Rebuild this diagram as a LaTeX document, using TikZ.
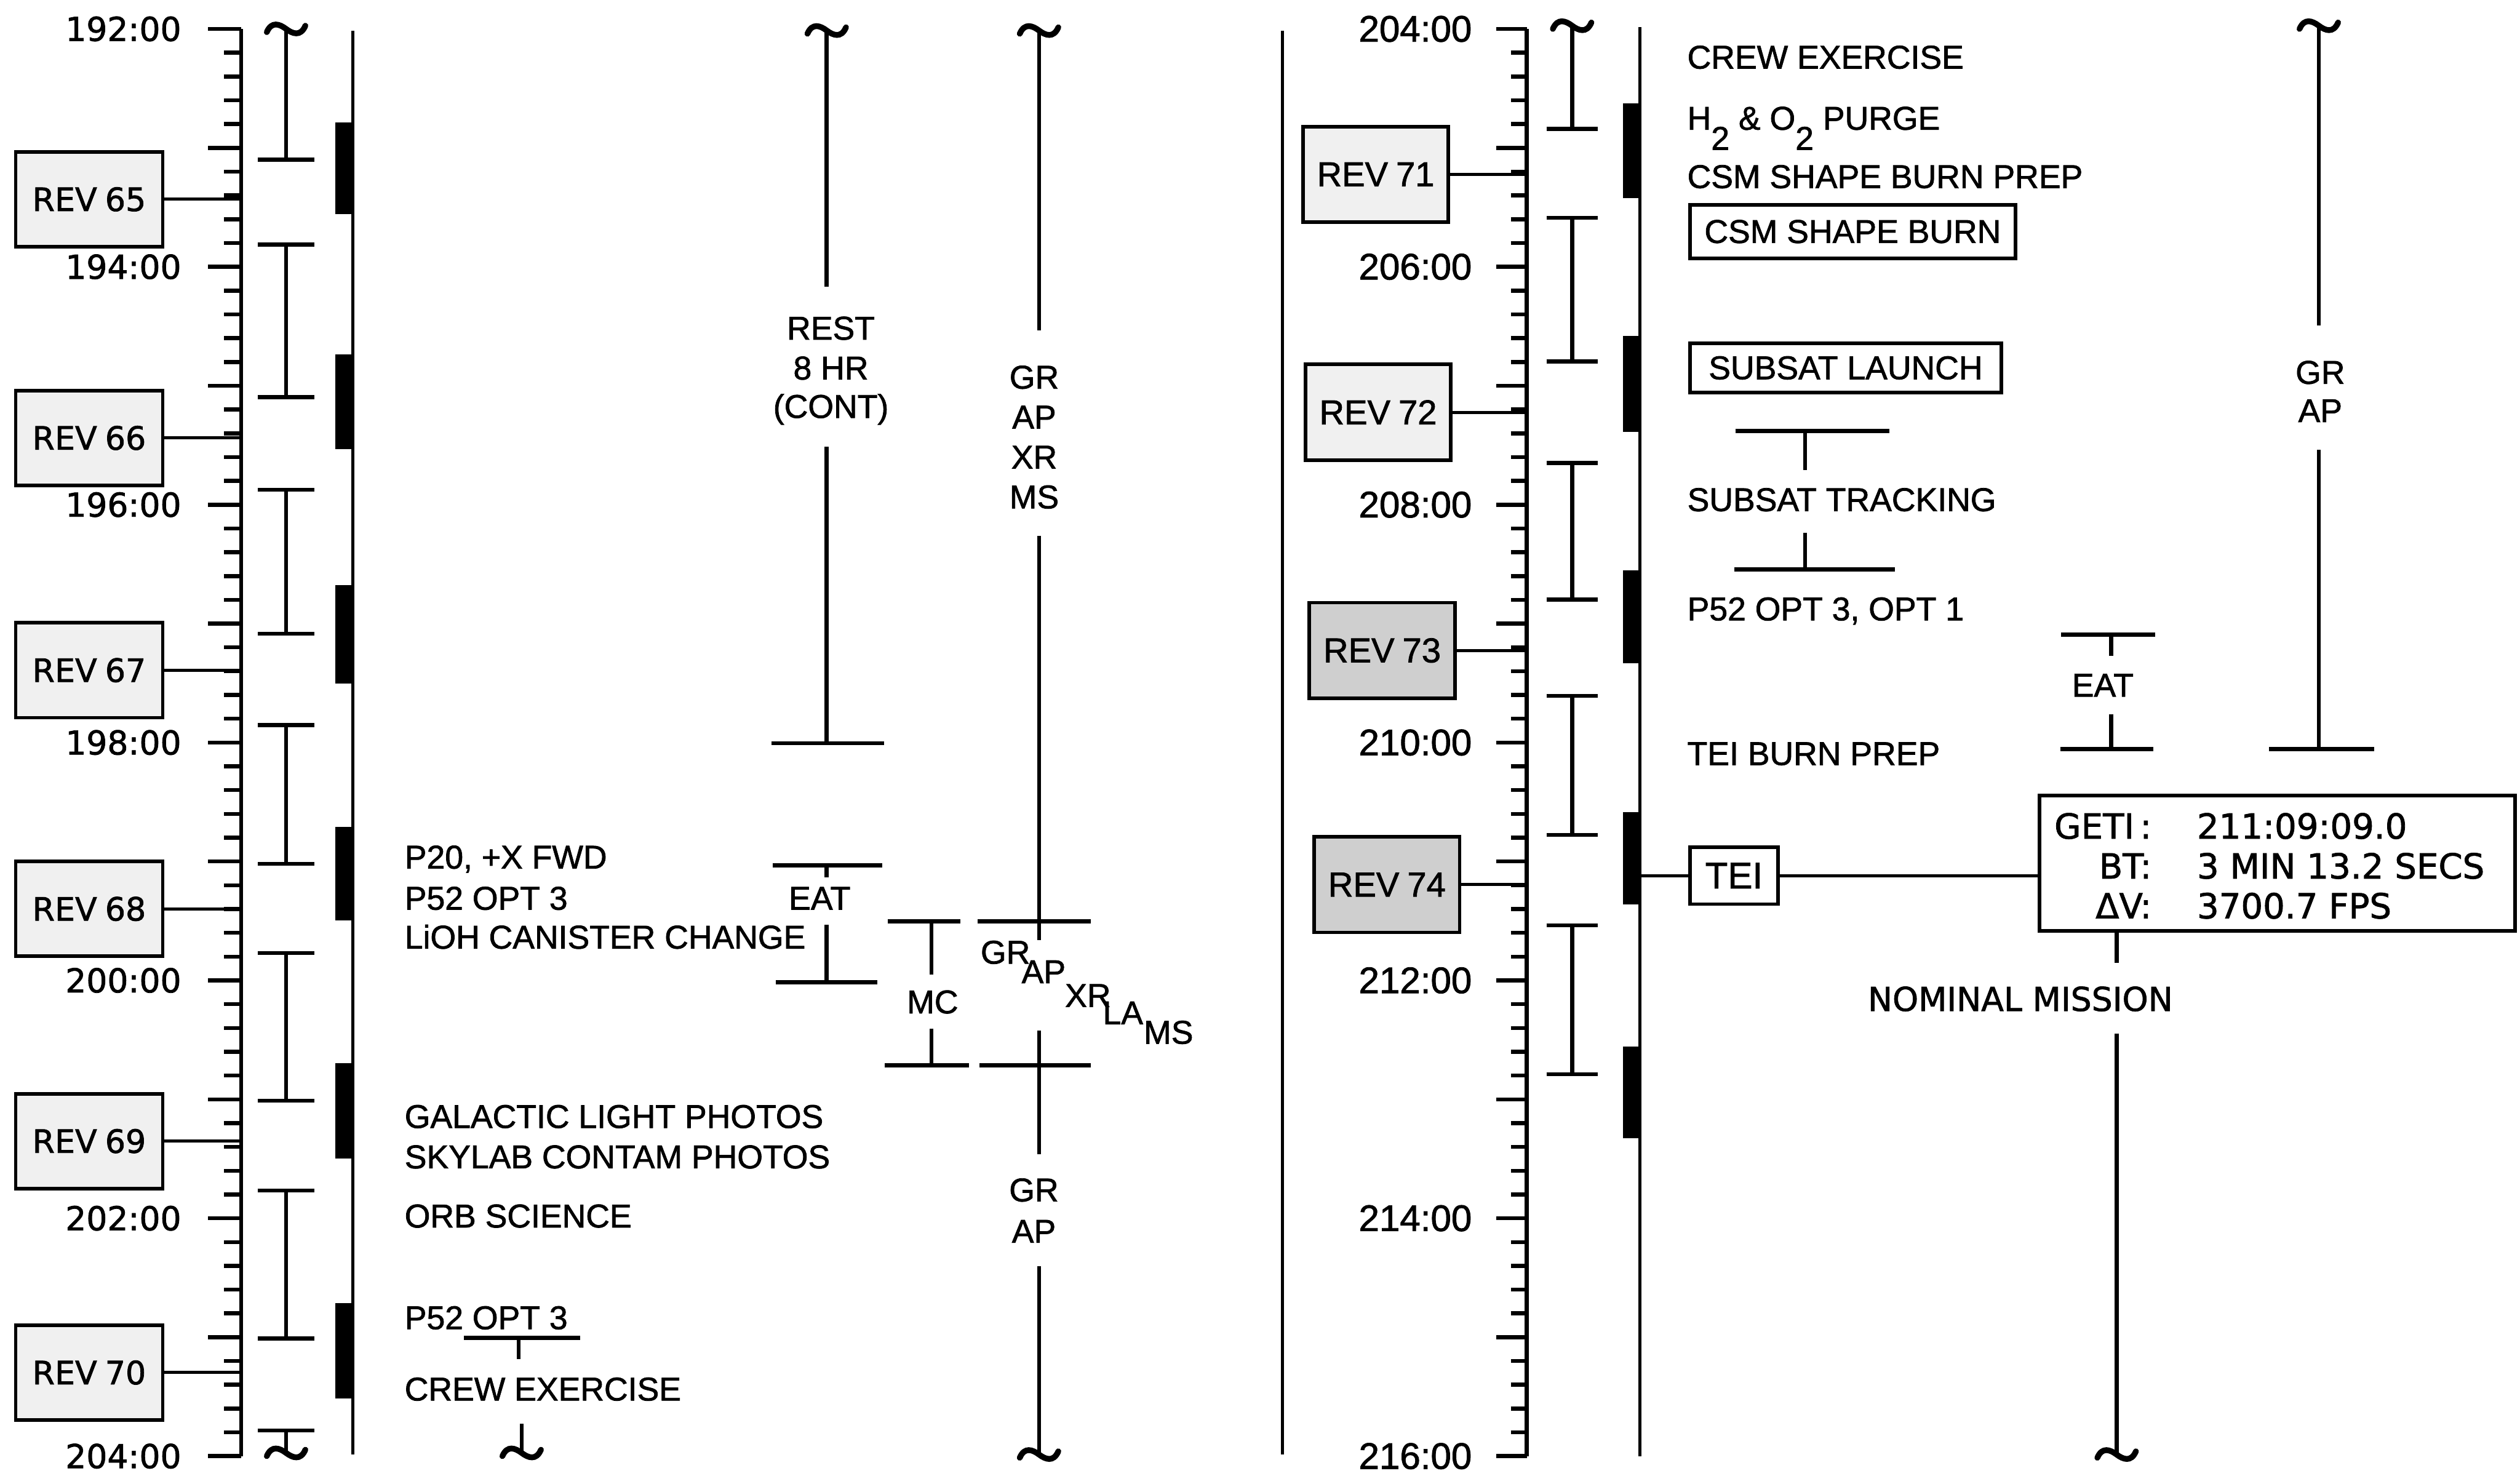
\documentclass[tikz,border=0pt]{standalone}
\usepackage{fontspec}
\setmainfont{Liberation Sans}[AutoFakeBold=1.4]
\newfontfamily\geofont{DejaVu Sans}[AutoFakeBold=1.4]
\newcommand{\mybeam}[4]{\draw[ib] ({#1-#4},#2) -- ({#1+#4},#2) (#1,#2) -- (#1,#3) ({#1-#4},#3) -- ({#1+#4},#3);}
\newcommand{\mytilde}[2]{\draw[tl] ({#1-12},{#2+2}) .. controls ({#1-9},{#2-5}) and ({#1-4},{#2-3}) .. (#1,#2) .. controls ({#1+4},{#2+3}) and ({#1+9},{#2+5}) .. ({#1+12},{#2-2});}
\begin{document}
\begin{tikzpicture}[x=1pt,y=-1pt,
  ax/.style={line width=2.5pt},
  ib/.style={line width=2.5pt},
  thin/.style={line width=1.9pt},
  tl/.style={line width=3.6pt, line cap=round},
  txt/.style={font=\bfseries\fontsize{20.5}{24}\selectfont, inner sep=0pt, anchor=base west},
  ctxt/.style={font=\bfseries\fontsize{20.5}{24}\selectfont, inner sep=0pt, anchor=base},
  tlabL/.style={font=\geofont\bfseries\fontsize{20.5}{24}\selectfont, inner sep=0pt, anchor=east},
  tlabR/.style={font=\bfseries\fontsize{23}{26}\selectfont, inner sep=0pt, anchor=east},
  revL/.style={draw, line width=2.2pt, fill=gray!12, minimum width=91.5pt, minimum height=59pt, inner sep=0pt, font=\geofont\bfseries\fontsize{20}{24}\selectfont},
  revR/.style={draw, line width=2.2pt, fill=gray!12, minimum width=90.5pt, minimum height=59.5pt, inner sep=0pt, font=\bfseries\fontsize{21.5}{24}\selectfont},
  evbox/.style={draw, line width=2.2pt, inner sep=0pt, font=\bfseries\fontsize{20.5}{24}\selectfont},
  geti/.style={font=\geofont\bfseries\fontsize{21.5}{24}\selectfont, inner sep=0pt},
]
\fill[white] (0,0) rectangle (1568,918);
\useasboundingbox (0,0) rectangle (1568,918);

% ---------------- LEFT PANEL ----------------
% time axis
\draw[ax] (150,18) -- (150,906);
\foreach \k in {0,...,60}{
  \pgfmathsetmacro{\yy}{18+\k*14.8}
  \pgfmathtruncatemacro{\mm}{mod(\k,5)}
  \ifnum\mm=0 \draw[ax] (129.5,\yy) -- (150,\yy); \else \draw[ax] (139.5,\yy) -- (150,\yy); \fi
}
\foreach \h [count=\i from 0] in {192,194,...,204}
  \node[tlabL] (tL\h) at (113,{18+\i*148}) {\h:00};

% REV boxes
\foreach \r/\yy in {65/124,66/272.5,67/417,68/565.5,69/710,70/854}{
  \node[revL] (rev\r) at (55.5,\yy) {REV\hspace{5pt}\r};
  \coordinate (ax\r) at (150,\yy);
  \draw[thin] (rev\r.east) -- (ax\r);
}

% I-beams (left)
\mytilde{178}{18}
\draw[ib] (178,18) -- (178,99.3) (160.5,99.3) -- (195.5,99.3);
\mybeam{178}{152.1}{247.1}{17.5}
\mybeam{178}{304.8}{394.3}{17.5}
\mybeam{178}{451.2}{537.4}{17.5}
\mybeam{178}{593}{684.8}{17.5}
\mybeam{178}{740.8}{832.8}{17.5}
\draw[ib] (160.5,890) -- (195.5,890) (178,890) -- (178,903);
\mytilde{178}{904}

% vertical line with black bars
\draw[thin] (219.5,19) -- (219.5,905);
\foreach \ya/\yb in {76.3/133.2,220.6/279.6,364.2/425.2,514.6/572.6,661.6/721,810.6/870}
  \fill (208.5,\ya) rectangle (220.4,\yb);

% activity texts
\node[txt] (p20) at (251.6,540.4) {P20, +X FWD};
\node[txt] (p52a) at (251.6,566) {P52 OPT 3};
\node[txt] (lioh) at (251.6,590.2) {LiOH CANISTER CHANGE};
\node[txt] (gal) at (251.6,701.8) {GALACTIC LIGHT PHOTOS};
\node[txt] (sky) at (251.6,726.9) {SKYLAB CONTAM PHOTOS};
\node[txt] (orb) at (251.6,763.7) {ORB SCIENCE};
\node[txt] (p52b) at (251.6,827) {P52 OPT 3};
\node[txt] (crewL) at (251.6,871.4) {CREW EXERCISE};
\draw[ib] (288.5,832.4) -- (360.8,832.4) (322.7,832.4) -- (322.7,845.8);
\draw[ib] (324.6,886) -- (324.6,903);
\mytilde{324.6}{904}

% REST column
\mytilde{514.4}{19}
\draw[ib] (514.4,19) -- (514.4,178.5);
\node[ctxt] (rest1) at (517,211.3) {REST};
\node[ctxt] (rest2) at (517,236.1) {8 HR};
\node[ctxt] (rest3) at (517,260) {(CONT)};
\draw[ib] (514.4,278) -- (514.4,462.5) (480,462.5) -- (550,462.5);

% EAT (left)
\draw[ib] (480.8,538.5) -- (548.8,538.5) (514.4,538.5) -- (514.4,545.8);
\node[ctxt] (eatL) at (510,566) {EAT};
\draw[ib] (514.4,575.3) -- (514.4,611.1) (482.9,611.1) -- (545.7,611.1);

% MC
\draw[ib] (552.3,573.2) -- (597.5,573.2) (579.5,573.2) -- (579.5,606.3);
\node[ctxt] (mc) at (580.3,630.5) {MC};
\draw[ib] (579.5,640) -- (579.5,662.8) (550.5,662.8) -- (603,662.8);

% GR AP XR MS column
\mytilde{646.5}{19}
\draw[ib] (646.5,19) -- (646.5,205.6);
\node[ctxt] (gr1) at (643.5,241.8) {GR};
\node[ctxt] (ap1) at (643.5,266.6) {AP};
\node[ctxt] (xr1) at (643.5,291.5) {XR};
\node[ctxt] (ms1) at (643.5,316.3) {MS};
\draw[ib] (646.5,333.3) -- (646.5,584.8) (608.4,573.2) -- (678.9,573.2);
\node[txt] (gr2) at (610,599.6) {GR};
\node[txt] (ap2) at (635.5,611.7) {AP};
\node[txt] (xr2) at (662.5,626.5) {XR};
\node[txt] (la2) at (686,637.3) {LA};
\node[txt] (ms2) at (711.5,649.4) {MS};
\draw[ib] (646.5,641.3) -- (646.5,718) (609.6,662.8) -- (678.9,662.8);
\node[ctxt] (gr3) at (643.3,747.5) {GR};
\node[ctxt] (ap3) at (643.3,773.2) {AP};
\draw[ib] (646.5,788) -- (646.5,904);
\mytilde{646.5}{905}

% ---------------- RIGHT PANEL ----------------
\draw[thin] (798,19) -- (798,905);
\draw[ax] (950,18) -- (950,906);
\foreach \k in {0,...,60}{
  \pgfmathsetmacro{\yy}{18+\k*14.8}
  \pgfmathtruncatemacro{\mm}{mod(\k,5)}
  \ifnum\mm=0 \draw[ax] (931,\yy) -- (950,\yy); \else \draw[ax] (940,\yy) -- (950,\yy); \fi
}
\foreach \h [count=\i from 0] in {204,206,...,216}
  \node[tlabR] (tR\h) at (916,{18+\i*148}) {\h:00};

\node[revR] (rev71) at (856,108.5) {REV\hspace{5pt}71};
\node[revR] (rev72) at (857.5,256.5) {REV\hspace{5pt}72};
\node[revR, fill=gray!38] (rev73) at (860,404.7) {REV\hspace{5pt}73};
\node[revR, fill=gray!38] (rev74) at (863,550.4) {REV\hspace{5pt}74};
\foreach \r in {71,72,73,74}{
  \coordinate (ax\r) at (950,0 |- rev\r);
  \draw[thin] (rev\r.east) -- (rev\r.east -| ax\r);
}

% I-beams (right)
\mytilde{978.2}{16}
\draw[ib] (978.2,16) -- (978.2,80.2) (962.2,80.2) -- (994.2,80.2);
\mybeam{978.2}{135.6}{224.8}{16}
\mybeam{978.2}{288}{373}{16}
\mybeam{978.2}{433}{519.4}{16}
\mybeam{978.2}{575.8}{668.4}{16}

% vertical line with black bars
\draw[thin] (1020.5,17) -- (1020.5,906);
\foreach \ya/\yb in {64.4/123.1,209/268.9,355/412.6,505.2/562.9,651/708.3}
  \fill (1010,\ya) rectangle (1021.4,\yb);

% activity texts
\node[txt] (crewR) at (1049.7,42.7) {CREW EXERCISE};
\node[txt] (purge) at (1049.7,80.7) {H\raisebox{-12.5pt}{2} \& O\raisebox{-12.5pt}{2} PURGE};
\node[txt] (prep) at (1049.7,117) {CSM SHAPE BURN PREP};
\node[evbox, minimum width=202.6pt, minimum height=33.2pt] (csmburn) at (1152.8,144.1) {CSM SHAPE BURN};
\node[evbox, minimum width=193.7pt, minimum height=30.7pt] (subl) at (1148.4,228.9) {SUBSAT LAUNCH};
\draw[ib] (1079.8,268.2) -- (1175.6,268.2) (1123.2,268.2) -- (1123.2,292.6);
\node[txt] (subt) at (1049.7,318) {SUBSAT TRACKING};
\draw[ib] (1123.2,331.5) -- (1123.2,354.3) (1079.1,354.3) -- (1179,354.3);
\node[txt] (p52c) at (1049.7,386) {P52 OPT 3, OPT 1};
\node[txt] (teiprep) at (1049.7,476) {TEI BURN PREP};

% EAT (right)
\draw[ib] (1282.5,394.8) -- (1341.1,394.8) (1313.6,394.8) -- (1313.6,408);
\node[ctxt] (eatR) at (1308.4,433.4) {EAT};
\draw[ib] (1313.6,444.4) -- (1313.6,466) (1282,466) -- (1340,466);

% GR AP (right)
\mytilde{1442.8}{16}
\draw[ib] (1442.8,16) -- (1442.8,202.4);
\node[ctxt] (gr4) at (1443.7,238.8) {GR};
\node[ctxt] (ap4) at (1443.7,262.6) {AP};
\draw[ib] (1442.8,280) -- (1442.8,466) (1411.8,466) -- (1477.3,466);

% TEI and burn data
\node[evbox, minimum width=54.7pt, minimum height=35.4pt, font=\bfseries\fontsize{23}{26}\selectfont] (tei) at (1078.9,544.8) {TEI};
\coordinate (rl74) at (1020.5,544.8);
\node[draw, line width=2.4pt, minimum width=296pt, minimum height=84.2pt, inner sep=0pt] (getibox) at (1417,537.1) {};
\draw[thin] (rl74) -- (tei.west);
\draw[thin] (tei.east) -- (tei.east -| getibox.west);
\node[geti, anchor=base east] (g1l) at (1339,521.8) {GETI\,:};
\node[geti, anchor=base east] (g2l) at (1339,546.6) {BT:};
\node[geti, anchor=base east] (g3l) at (1339,571.4) {ΔV:};
\node[geti, anchor=base west] (g1v) at (1366.8,521.8) {211:09:09.0};
\node[geti, anchor=base west] (g2v) at (1366.8,546.6) {3 MIN 13.2 SECS};
\node[geti, anchor=base west] (g3v) at (1366.8,571.4) {3700.7 FPS};
\coordinate (gs) at (1317,599);
\draw[ib] (getibox.south -| gs) -- (gs);
\node[geti, anchor=base west, font=\geofont\bfseries\fontsize{20.5}{24}\selectfont] (nom) at (1162,629) {NOMINAL MISSION};
\draw[ib] (1317,643) -- (1317,904);
\mytilde{1317}{905}
\end{tikzpicture}
\end{document}
